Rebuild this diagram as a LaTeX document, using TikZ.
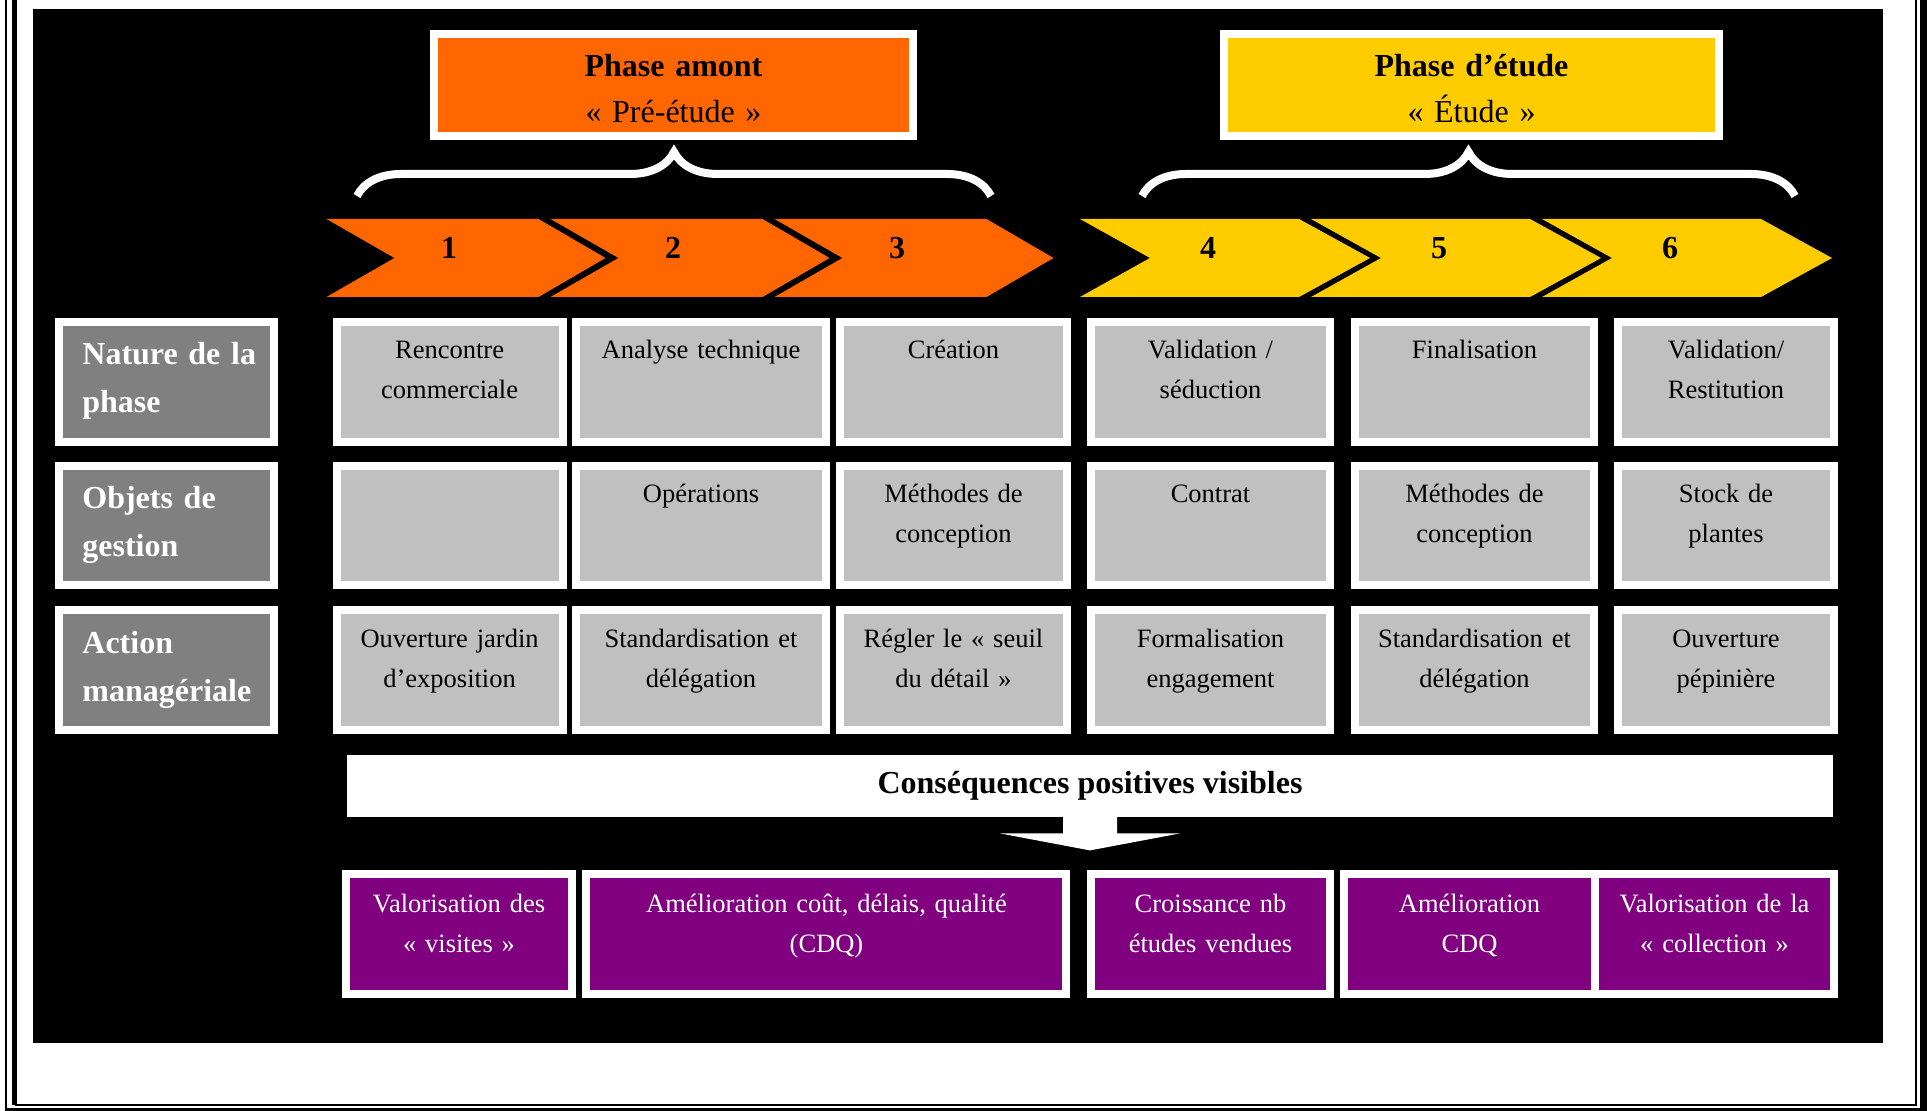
\documentclass[tikz,border=0pt]{standalone}
\usepackage{fontspec}
\setmainfont{Liberation Serif}
\usepackage{tikz}
\usetikzlibrary{decorations.pathreplacing}

\definecolor{orangeph}{HTML}{FF6600}
\definecolor{yellowph}{HTML}{FFCC00}
\definecolor{cellgray}{HTML}{C0C0C0}
\definecolor{headgray}{HTML}{808080}
\definecolor{purplecq}{HTML}{800080}

\begin{document}
\begin{tikzpicture}[x=0.5pt,y=-0.5pt,
  whitebox/.style={draw=white,line width=4pt},
  graycell/.style={whitebox,fill=cellgray},
  headcell/.style={whitebox,fill=headgray},
  purplecell/.style={whitebox,fill=purplecq},
  celltext/.style={anchor=base,inner sep=0pt,text width=200pt,align=center,
    font=\fontsize{13.25}{20}\selectfont},
  headtext/.style={anchor=base west,inner sep=0pt,text width=100pt,align=left,
    text=white,font=\fontsize{16}{24}\selectfont\bfseries},
  phasetext/.style={anchor=base,inner sep=0pt,text width=220pt,align=center,
    font=\fontsize{16}{23}\selectfont},
  numtext/.style={anchor=base,inner sep=0pt,font=\fontsize{16}{19}\selectfont\bfseries},
  bracearc/.style={draw=white,line width=4pt,decorate,decoration={brace,amplitude=22pt}}]

\useasboundingbox (0,0) rectangle (1930,1111);

% Page frame
\draw[line width=1pt] (5.5,0) -- (5.5,1111);
\draw[line width=2.25pt] (14.5,0) -- (14.5,1105);
\draw[line width=1pt] (14.5,1105) -- (1916,1105) -- (1916,0);
\draw[line width=3.5pt] (5.5,1111.2) -- (1923,1111.2);
\draw[line width=3.5pt] (1923,0) -- (1923,1111);

% Background
\fill[black] (33,9) rectangle (1883,1043);

% Phases
\draw[whitebox,fill=orangeph] (434,34) rectangle (913,136);
\node[phasetext] (amont) at (673.5,77) {\textbf{Phase amont}\\« Pré-étude »};
\draw[whitebox,fill=yellowph] (1224,34) rectangle (1719,136);
\node[phasetext] (etude) at (1471.5,77) {\textbf{Phase d’étude}\\« Étude »};

\draw[bracearc] (357,196) -- (991,196);
\draw[bracearc] (1142,196) -- (1795,196);

% Steps
\foreach \i in {0,1,2}
  \fill[orangeph] ({326.5+224*\i},219) -- ++(212,0) -- ++(67,39) -- ++(-67,39)
    -- ++(-212,0) -- ++(68,-39) -- cycle;
\foreach \i in {0,1,2}
  \fill[yellowph] ({1080+231*\i},219) -- ++(219,0) -- ++(71,39) -- ++(-71,39)
    -- ++(-219,0) -- ++(70,-39) -- cycle;
\foreach \n/\x in {1/449,2/673,3/897,4/1208,5/1439,6/1670}
  \node[numtext] (k\n) at (\x,259) {\n};

% Grid
\foreach \ya/\yb in {322/441.7,466.3/585.3,610/730} {
  \draw[headcell] (58.5,\ya) rectangle (274,\yb);
  \foreach \xa/\xb in {336.6/562.7,576.3/826,840/1067,1090.7/1330.3,1354.7/1594.3,1618.3/1834}
    \draw[graycell] (\xa,\ya) rectangle (\xb,\yb);
}

\node[headtext] (hnat) at (82,365) {Nature de la\\phase};
\node[headtext] (hobj) at (82,509) {Objets de\\gestion};
\node[headtext] (hact) at (82,653) {Action\\managériale};

\node[celltext] (n1) at (449.6,359) {Rencontre\\commerciale};
\node[celltext] (n2) at (701,359) {Analyse technique};
\node[celltext] (n3) at (953.5,359) {Création};
\node[celltext] (n4) at (1210.5,359) {Validation /\\séduction};
\node[celltext] (n5) at (1474.5,359) {Finalisation};
\node[celltext] (n6) at (1726,359) {Validation/\\Restitution};

\node[celltext] (o2) at (701,503) {Opérations};
\node[celltext] (o3) at (953.5,503) {Méthodes de\\conception};
\node[celltext] (o4) at (1210.5,503) {Contrat};
\node[celltext] (o5) at (1474.5,503) {Méthodes de\\conception};
\node[celltext] (o6) at (1726,503) {Stock de\\plantes};

\node[celltext] (a1) at (449.6,647) {Ouverture jardin\\d’exposition};
\node[celltext] (a2) at (701,647) {Standardisation et\\délégation};
\node[celltext] (a3) at (953.5,647) {Régler le « seuil\\du détail »};
\node[celltext] (a4) at (1210.5,647) {Formalisation\\engagement};
\node[celltext] (a5) at (1474.5,647) {Standardisation et\\délégation};
\node[celltext] (a6) at (1726,647) {Ouverture\\pépinière};

% Consequences
\node[fill=white,inner sep=0pt,minimum width=743pt,minimum height=31pt,
  font=\fontsize{16}{19}\selectfont\bfseries] (csq) at (1090,786) {Conséquences positives visibles};
\fill[white] (csq.south) ++(-27,-1) -- ++(0,17) -- ++(-63,0) -- ++(90,17)
  -- ++(90,-17) -- ++(-63,0) -- ++(0,-17) -- cycle;

\draw[purplecell] (346,874) rectangle (572,994);
\draw[purplecell] (586,874) rectangle (1066,994);
\draw[purplecell] (1091,874) rectangle (1330,994);
\draw[purplecell] (1344,874) rectangle (1594.5,994);
\draw[purplecell] (1594.5,874) rectangle (1834,994);

\node[celltext,text=white] (v1) at (459,912) {Valorisation des\\« visites »};
\node[celltext,text=white] (v2) at (826.5,912) {Amélioration coût, délais, qualité\\(CDQ)};
\node[celltext,text=white] (v3) at (1210.5,912) {Croissance nb\\études vendues};
\node[celltext,text=white] (v4) at (1469.5,912) {Amélioration\\CDQ};
\node[celltext,text=white] (v5) at (1714.5,912) {Valorisation de la\\« collection »};

\end{tikzpicture}
\end{document}
